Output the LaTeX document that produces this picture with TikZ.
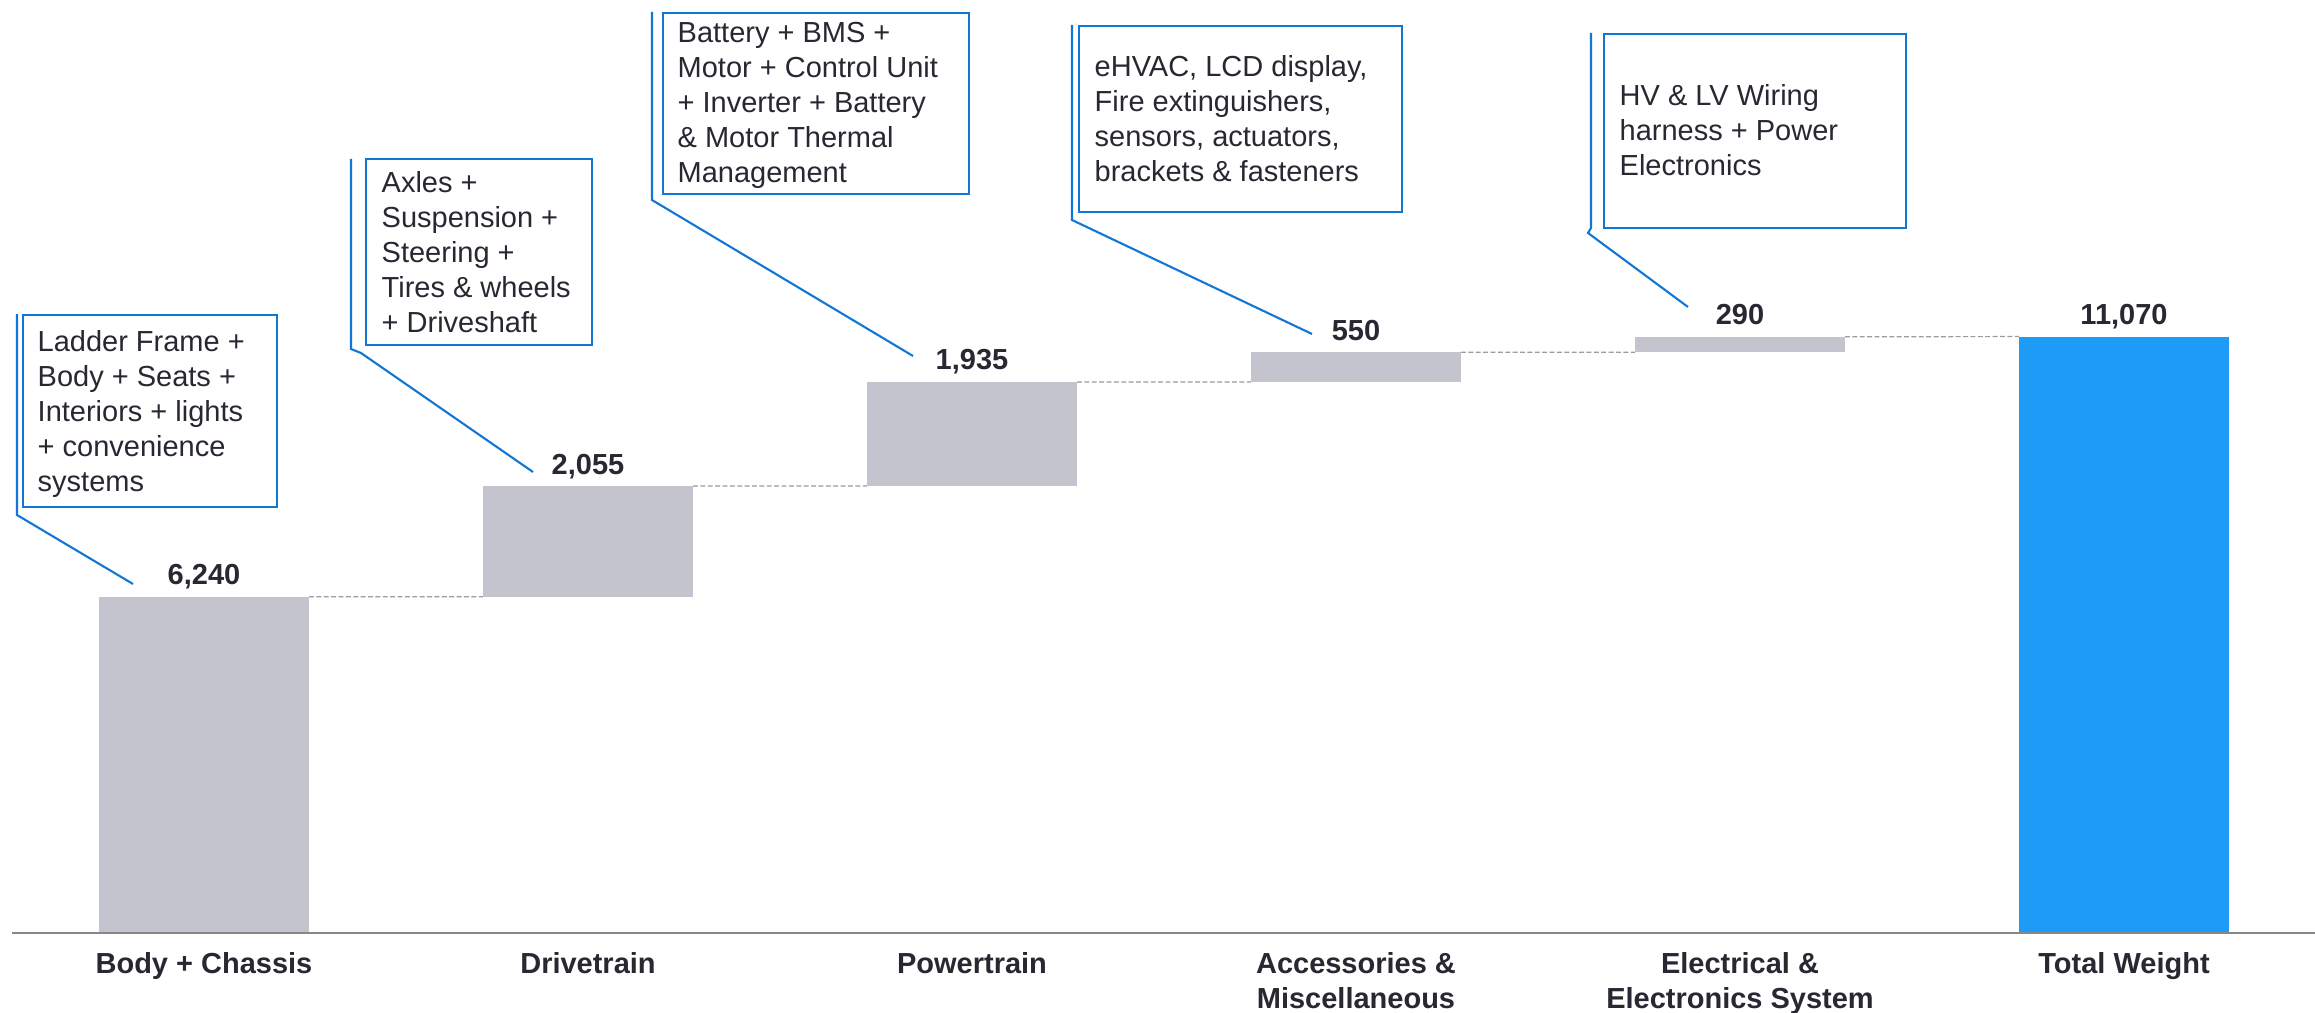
\documentclass[tikz,border=0pt]{standalone}
\usepackage{fontspec}
\setmainfont{Liberation Sans}

\definecolor{barGray}{RGB}{195,196,205}
\definecolor{totalBlue}{RGB}{29,155,246}
\definecolor{calloutBlue}{RGB}{18,118,212}
\definecolor{inkDark}{RGB}{40,40,50}
\definecolor{axisGray}{RGB}{135,135,135}
\definecolor{dashGray}{RGB}{155,155,160}

\newcommand\chartfont{\fontsize{8.25pt}{9.96pt}\selectfont}

\begin{document}
\begin{tikzpicture}[x=0.1mm, y=-0.1mm,
  bar/.style={fill=barGray, draw=none, inner sep=0pt, outer sep=0pt,
              minimum width=21mm, anchor=south west},
  totalbar/.style={bar, fill=totalBlue},
  value/.style={font=\chartfont\bfseries, text=inkDark, inner sep=0pt, anchor=base},
  category/.style={font=\chartfont\bfseries, text=inkDark, inner sep=0pt,
                   align=center, anchor=north},
  callbox/.style={draw=calloutBlue, line width=0.6pt, inner sep=0pt,
                  anchor=north west, fill=white},
  calltext/.style={font=\chartfont, text=inkDark, inner sep=0pt,
                   align=left, anchor=north west},
  leader/.style={draw=calloutBlue, line width=0.6pt},
  stepline/.style={draw=dashGray, line width=0.35pt, dash pattern=on 1.4pt off 0.7pt},
  axisline/.style={draw=axisGray, line width=0.7pt}]

\useasboundingbox (0,0) rectangle (2315,1013);

% ---- waterfall bars ----
\node[bar, minimum height=33.62mm] (bBody)  at (99,933)   {};
\node[bar, minimum height=11.07mm] (bDrive) at (483,596.8) {};
\node[bar, minimum height=10.42mm] (bPower) at (867,486.1) {};
\node[bar, minimum height=2.96mm]  (bAcc)   at (1251,381.9) {};
\node[bar, minimum height=1.56mm]  (bElec)  at (1635,352.3) {};
\node[totalbar, minimum height=59.64mm] (bTotal) at (2019,933) {};

% ---- dashed step connectors ----
\draw[stepline] (bBody.north east)  -- (bDrive.south west);
\draw[stepline] (bDrive.north east) -- (bPower.south west);
\draw[stepline] (bPower.north east) -- (bAcc.south west);
\draw[stepline] (bAcc.north east)   -- (bElec.south west);
\draw[stepline] (bElec.north east)  -- (bTotal.north west);

% ---- baseline axis ----
\coordinate (axL) at (12,933);
\coordinate (axR) at (2315,933);
\draw[axisline] (axL) -- (axR);

% ---- value labels ----
\node[value] (vBody)  at ([yshift=1.2mm]bBody.north)  {6,240};
\node[value] (vDrive) at ([yshift=1.2mm]bDrive.north) {2,055};
\node[value] (vPower) at ([yshift=1.2mm]bPower.north) {1,935};
\node[value] (vAcc)   at ([yshift=1.2mm]bAcc.north)   {550};
\node[value] (vElec)  at ([yshift=1.2mm]bElec.north)  {290};
\node[value] (vTotal) at ([yshift=1.2mm]bTotal.north) {11,070};

% ---- category labels ----
\node[category] (cBody)  at (204,952)  {Body + Chassis};
\node[category] (cDrive) at (588,952)  {Drivetrain};
\node[category] (cPower) at (972,952)  {Powertrain};
\node[category] (cAcc)   at (1356,952) {Accessories \&\\Miscellaneous};
\node[category] (cElec)  at (1740,952) {Electrical \&\\Electronics System};
\node[category] (cTotal) at (2124,952) {Total Weight};

% ---- callouts: box, accent bar and leader ----
% Body + Chassis
\node[callbox, minimum width=25.4mm, minimum height=19.2mm] (k1) at (22,314) {};
\node[calltext] (t1) at (37,330)
  {Ladder Frame +\\Body + Seats +\\Interiors + lights\\+ convenience\\systems};
\coordinate (a1) at (17,314);
\coordinate (e1) at (17,515);
\coordinate (p1) at (133,584);
\draw[leader] (a1) -- (e1) -- (p1);

% Drivetrain
\node[callbox, minimum width=22.6mm, minimum height=18.6mm] (k2) at (365,158) {};
\node[calltext] (t2) at (381,171)
  {Axles +\\Suspension +\\Steering +\\Tires \& wheels\\+ Driveshaft};
\coordinate (a2) at (351,159);
\coordinate (e2) at (351,349);
\coordinate (j2) at (361,353);
\coordinate (p2) at (533,472);
\draw[leader] (a2) -- (e2) -- (j2) -- (p2);

% Powertrain
\node[callbox, minimum width=30.6mm, minimum height=18.1mm] (k3) at (662,12) {};
\node[calltext] (t3) at (677,22)
  {Battery + BMS +\\Motor + Control Unit\\+ Inverter + Battery\\\& Motor Thermal\\Management};
\coordinate (a3) at (652,12);
\coordinate (e3) at (652,200);
\coordinate (p3) at (913,356);
\draw[leader] (a3) -- (e3) -- (p3);

% Accessories & Miscellaneous
\node[callbox, minimum width=32.3mm, minimum height=18.6mm] (k4) at (1078,25) {};
\node[calltext] (t4) at (1094,55)
  {eHVAC, LCD display,\\Fire extinguishers,\\sensors, actuators,\\brackets \& fasteners};
\coordinate (a4) at (1072,25);
\coordinate (e4) at (1072,220);
\coordinate (p4) at (1312,334);
\draw[leader] (a4) -- (e4) -- (p4);

% Electrical & Electronics System
\node[callbox, minimum width=30.2mm, minimum height=19.4mm] (k5) at (1603,33) {};
\node[calltext] (t5) at (1619,84)
  {HV \& LV Wiring\\harness + Power\\Electronics};
\coordinate (a5) at (1591,33);
\coordinate (e5) at (1591,228);
\coordinate (j5) at (1588,233);
\coordinate (p5) at (1688,307);
\draw[leader] (a5) -- (e5) -- (j5) -- (p5);

\end{tikzpicture}
\end{document}
